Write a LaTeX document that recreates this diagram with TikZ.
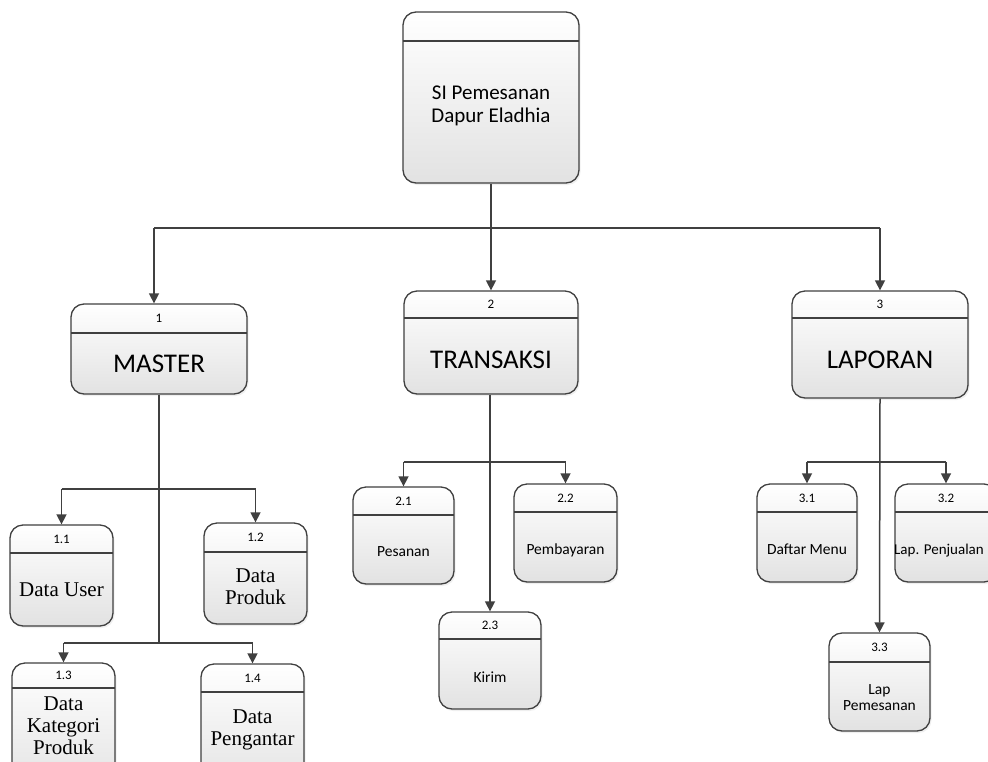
\documentclass[tikz,border=0pt]{standalone}
\usepackage{fontspec}
\setmainfont{Carlito}
\newfontfamily\tnr{Liberation Serif}
\usetikzlibrary{arrows.meta,shadows}
\definecolor{ln}{RGB}{64,64,64}
\definecolor{fillbot}{RGB}{226,226,226}
\tikzset{
 pbox/.style={draw=ln, line width=1.3pt, rounded corners=13pt, top color=white, bottom color=fillbot, inner sep=0pt,
   drop shadow={opacity=0.12, shadow xshift=1.5pt, shadow yshift=-2pt}},
 divline/.style={draw=ln, line width=1.3pt},
 conn/.style={draw=ln, line width=1.5pt},
 arr/.style={conn, -{Triangle[length=10pt,width=10pt]}},
 numlbl/.style={font=\fontsize{13}{14}\selectfont, inner sep=0pt},
 big/.style={font=\fontsize{27}{30}\selectfont, inner sep=0pt, anchor=base},
 small/.style={font=\fontsize{15.5}{16}\selectfont, inner sep=0pt},
 systxt/.style={font=\fontsize{21}{23}\selectfont, inner sep=0pt, align=center},
 serif/.style={font=\tnr\fontsize{21}{22}\selectfont, inner sep=0pt, align=center},
}
\newcommand\procbox[7]{%
  \node[pbox, minimum width={(#4-#2)*1pt}, minimum height={(#5-#3)*1pt}] (#1) at ({(#2+#4)/2},{(#3+#5)/2}) {};
  \draw[divline] ({#2},{#6}) -- ({#4},{#6});
  \node[numlbl] (#1num) at ({(#2+#4)/2},{(#3+#6)/2}) {#7};
}
\begin{document}
\begin{tikzpicture}[x=1pt,y=-1pt]
\fill[white] (0,0) rectangle (988,761);
\useasboundingbox (0,0) rectangle (988,761);

% boxes
\procbox{top}{403}{12}{579}{183}{41}{}
\procbox{b1}{71}{304}{247}{394}{333}{1}
\procbox{b2}{404}{291}{578}{394}{318}{2}
\procbox{b3}{792}{291}{968}{398}{318}{3}
\procbox{b11}{10}{525}{113}{626}{553}{1.1}
\procbox{b12}{204}{523}{307}{624}{552}{1.2}
\procbox{b13}{12}{663}{115}{795}{688}{1.3}
\procbox{b14}{201}{664}{304}{795}{692}{1.4}
\procbox{b21}{353}{487}{454}{584}{515}{2.1}
\procbox{b22}{514}{484}{617}{582}{512}{2.2}
\procbox{b23}{439}{612}{541}{709}{639}{2.3}
\procbox{b31}{757}{484}{857}{582}{512}{3.1}
\procbox{b32}{895}{484}{997}{582}{512}{3.2}
\procbox{b33}{829}{633}{930}{731}{662}{3.3}

% texts
\node[systxt] (topt) at (491,106) {SI Pemesanan\\Dapur Eladhia};
\node[big] (b1t) at (159,372) {MASTER};
\node[big] (b2t) at (491,368) {TRANSAKSI};
\node[big] (b3t) at (880,368) {LAPORAN};
\node[serif, anchor=base] (b11t) at (61.5,596) {Data User};
\node[serif] (b12t) at (255.5,587) {Data\\Produk};
\node[serif] (b13t) at (63.5,726) {Data\\Kategori\\Produk};
\node[serif] (b14t) at (252.5,730) {Data\\Pengantar};
\node[small, anchor=base] (b21t) at (403.5,556) {Pesanan};
\node[small, anchor=base] (b22t) at (565.5,554) {Pembayaran};
\node[small, anchor=base] (b23t) at (490,682) {Kirim};
\node[small, anchor=base] (b31t) at (807,554) {Daftar Menu};
\node[small, anchor=base, font=\fontsize{15}{16}\selectfont] (b32t) at (939,554) {Lap. Penjualan};
\node[small, align=center] (b33t) at (879.5,697.5) {Lap\\Pemesanan};

% connectors level 1
\coordinate (jL) at (154,228);
\coordinate (jR) at (880,228);
\draw[conn] (jL) -- (jR);
\draw[arr] (top.south) -- (b2.north);
\draw[arr] (jL) -- (jL |- b1.north);
\draw[arr] (jR) -- (b3.north);

% master
\coordinate (m1) at (159,489);
\coordinate (m2) at (159,643);
\draw[conn] (b1.south) -- (m2);
\draw[conn] (b11.north |- m1) -- (b12.north |- m1);
\draw[arr] (b11.north |- m1) -- (b11.north);
\draw[arr] (b12.north |- m1) -- (b12.north);
\draw[conn] (b13.north |- m2) -- (b14.north |- m2);
\draw[arr] (b13.north |- m2) -- (b13.north);
\draw[arr] (b14.north |- m2) -- (b14.north);

% transaksi
\coordinate (t1) at (490,462);
\draw[arr] (b2.south -| b23.north) -- (b23.north);
\draw[conn] (b21.north |- t1) -- (b22.north |- t1);
\draw[arr] (b21.north |- t1) -- (b21.north);
\draw[arr] (b22.north |- t1) -- (b22.north);

% laporan
\coordinate (l1) at (880,462);
\draw[arr] (b3.south) -- (b33.north);
\draw[conn] (b31.north |- l1) -- (b32.north |- l1);
\draw[arr] (b31.north |- l1) -- (b31.north);
\draw[arr] (b32.north |- l1) -- (b32.north);
\end{tikzpicture}
\end{document}
